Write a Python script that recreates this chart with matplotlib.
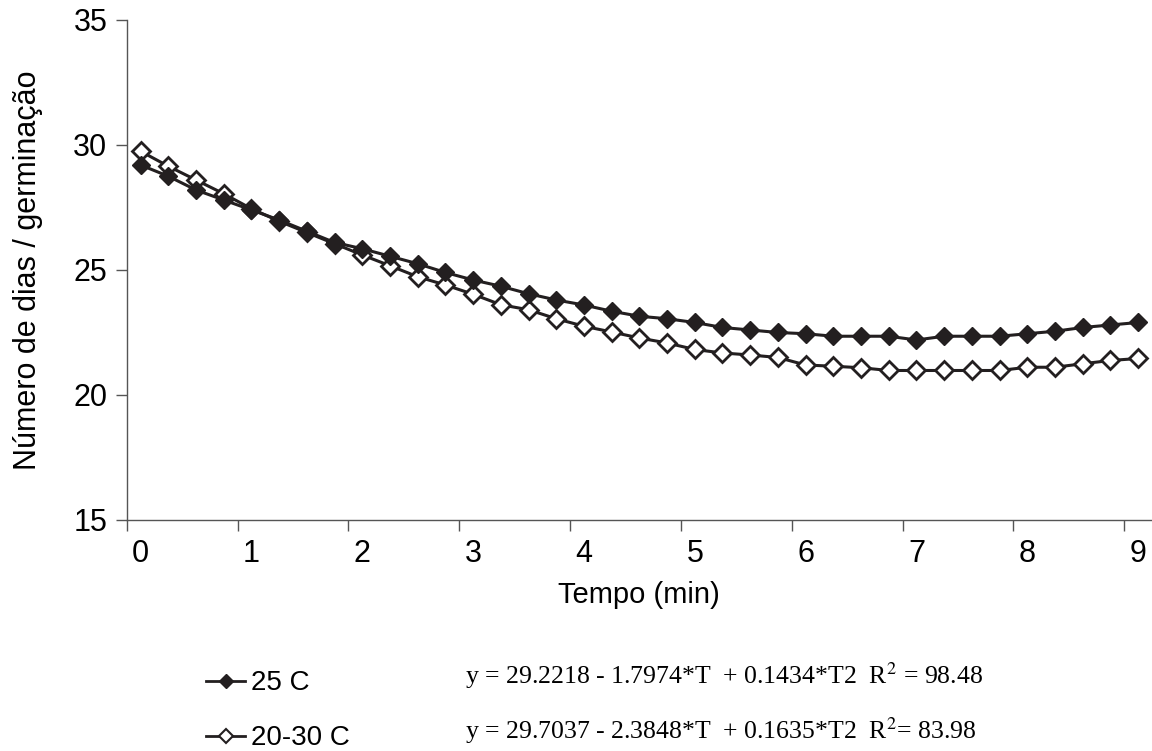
import numpy as np
import matplotlib.pyplot as plt
from matplotlib.lines import Line2D

plt.rcParams['font.family'] = ['Liberation Sans', 'DejaVu Sans']
plt.rcParams['mathtext.fontset'] = 'stix'

tempo = np.arange(0, 9.01, 0.25)

dias_25 = [29.2, 28.75, 28.2, 27.8, 27.4, 27.0, 26.55, 26.1, 25.85, 25.55,
           25.25, 24.9, 24.6, 24.35, 24.05, 23.8, 23.6, 23.35, 23.15, 23.05,
           22.9, 22.7, 22.6, 22.5, 22.45, 22.35, 22.35, 22.35, 22.2, 22.35,
           22.35, 22.35, 22.45, 22.55, 22.7, 22.8, 22.9]

dias_2030 = [29.75, 29.15, 28.6, 28.05, 27.45, 26.95, 26.5, 26.05, 25.6, 25.17,
             24.73, 24.4, 24.03, 23.61, 23.41, 23.05, 22.75, 22.52, 22.28, 22.08,
             21.82, 21.68, 21.6, 21.5, 21.2, 21.15, 21.09, 20.98, 20.98, 20.98,
             20.98, 20.98, 21.11, 21.11, 21.25, 21.38, 21.46]

eq_25 = "y = 29.2218 - 1.7974*T  + 0.1434*T2  R$^{2}$ = 98.48"
eq_2030 = "y = 29.7037 - 2.3848*T  + 0.1635*T2  R$^{2}$= 83.98"

cor = "#231f20"

fig = plt.figure(figsize=(11.52, 7.51), dpi=100)
ax = fig.add_axes([0.110, 0.3076, 0.890, 0.6658])

ax.plot(tempo, dias_2030, color=cor, lw=2.2, marker="D", ms=9.5,
        mfc="white", mec=cor, mew=2, zorder=2)
ax.plot(tempo, dias_25, color=cor, lw=2.2, marker="D", ms=9.5,
        mfc=cor, mec=cor, zorder=3)

ax.set_xlim(-0.125, 9.125)
ax.set_ylim(15, 35)
ax.set_yticks([15, 20, 25, 30, 35])

# marcas entre as categorias, rotulos nos inteiros
ax.set_xticks(np.arange(-0.125, 9.0, 1.0))
ax.set_xticklabels([])
ax.set_xticks(np.arange(0, 10), minor=True)
ax.set_xticklabels([str(i) for i in range(10)], minor=True)
ax.tick_params(axis="x", which="major", length=8, width=1, color="#555555", direction="out")
ax.tick_params(axis="x", which="minor", length=0, labelsize=22, pad=14)
ax.tick_params(axis="y", length=8, width=1, color="#555555", labelsize=22, pad=6)

for s in ["top", "right"]:
    ax.spines[s].set_visible(False)
for s in ["left", "bottom"]:
    ax.spines[s].set_color("#555555")
    ax.spines[s].set_linewidth(1)

ax.set_ylabel("Número de dias / germinação", fontsize=22, labelpad=22)
ax.set_xlabel("Tempo (min)", fontsize=21, labelpad=8)

h1 = Line2D([], [], color=cor, lw=2, marker="D", ms=7, mfc=cor, mec=cor)
h2 = Line2D([], [], color=cor, lw=2, marker="D", ms=7, mfc="white", mec=cor, mew=1.5)
fig.legend([h1, h2], ["25 C", "20-30 C"], loc="upper left",
           bbox_to_anchor=(0.167, 0.126), frameon=False, fontsize=20,
           handlelength=1.4, handletextpad=0.2, labelspacing=1.05, borderpad=0,
           bbox_transform=fig.transFigure)

fig.text(465 / 1152, 1 - 676 / 751, eq_25, fontsize=18.5, family="Liberation Serif", va="center")
fig.text(465 / 1152, 1 - 731 / 751, eq_2030, fontsize=18.5, family="Liberation Serif", va="center")

fig.savefig("out.png", dpi=100)
